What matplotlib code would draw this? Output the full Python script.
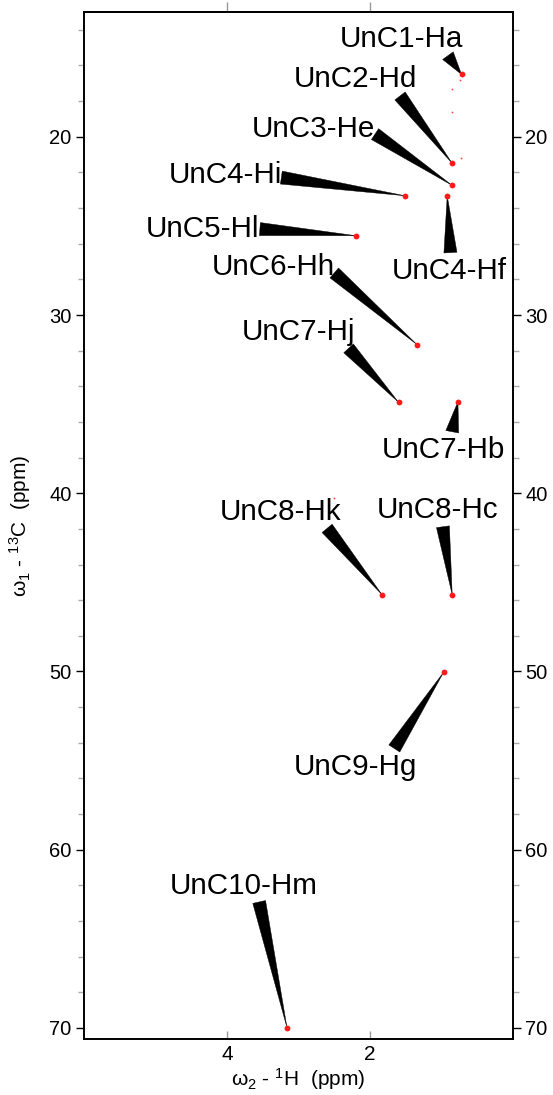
import numpy as np
import matplotlib.pyplot as plt
from matplotlib.ticker import MultipleLocator

plt.rcParams['font.family'] = ['Liberation Sans', 'DejaVu Sans']
plt.rcParams['mathtext.default'] = 'regular'

# assigned cross peaks (1H ppm, 13C ppm)
labels = ['UnC1-Ha', 'UnC2-Hd', 'UnC3-He', 'UnC4-Hi', 'UnC5-Hl', 'UnC6-Hh', 'UnC4-Hf',
          'UnC7-Hj', 'UnC7-Hb', 'UnC8-Hk', 'UnC8-Hc', 'UnC9-Hg', 'UnC10-Hm']
h_ppm = [0.72, 0.85, 0.85, 1.51, 2.20, 1.34, 0.92, 1.60, 0.77, 1.83, 0.85, 0.97, 3.16]
c_ppm = [16.50, 21.49, 22.73, 23.31, 25.55, 31.67, 23.31, 34.90, 34.87, 45.70, 45.70, 50.04, 70.00]

# weak stray signals
weak_h = [0.86, 0.86, 0.73, 0.74, 2.51]
weak_c = [17.34, 18.61, 21.19, 16.82, 40.29]

# label text position (left, baseline) and wedge start
text_h = [2.43, 3.06, 3.65, 4.82, 5.13, 4.22, 1.70, 3.80, 1.83, 4.10, 1.90, 3.06, 4.80]
text_c = [14.98, 17.23, 20.03, 22.61, 25.61, 27.74, 28.00, 31.41, 38.04, 41.51, 41.41, 55.82, 62.46]
base_h = [0.91, 1.58, 1.93, 3.24, 3.54, 2.50, 0.875, 2.30, 0.85, 2.60, 0.98, 1.66, 3.55]
base_c = [15.45, 17.71, 19.85, 22.29, 25.18, 27.64, 26.50, 31.87, 36.55, 41.97, 41.88, 54.32, 62.93]

fig = plt.figure(figsize=(5.53, 10.95), dpi=100)
ax = fig.add_axes([84/553, 1 - 1039/1095, 429/553, 1027/1095])

for i in range(len(labels)):
    ax.annotate('', xy=(h_ppm[i], c_ppm[i]), xytext=(base_h[i], base_c[i]),
                arrowprops=dict(arrowstyle='wedge,tail_width=0.47,shrink_factor=0.5',
                                fc='black', ec='black', lw=0.3, shrinkA=0, shrinkB=0,
                                mutation_scale=20), zorder=2)
    ax.text(text_h[i], text_c[i], labels[i], fontsize=21.3, ha='left', va='baseline', zorder=3)

ax.plot(h_ppm, c_ppm, 'o', color='#ff1a1a', markersize=4.2, markeredgewidth=0, zorder=4)
ax.plot(weak_h, weak_c, 'o', color='#ff4040', markersize=1.3, markeredgewidth=0, zorder=4)

ax.set_xlim(6, 0)
ax.set_ylim(70.62, 13.0)

ax.set_xticks([4, 2])
ax.yaxis.set_major_locator(MultipleLocator(10))
ax.yaxis.set_minor_locator(MultipleLocator(2))

for s in ax.spines.values():
    s.set_linewidth(1.4)

ax.tick_params(axis='x', which='major', direction='in', length=6, width=1, color='#999999',
               labelsize=15, pad=4, top=False)
ax.tick_params(axis='y', which='major', direction='out', length=6, width=1, color='black',
               labelsize=14.5, pad=3, left=True, right=True, labelleft=True, labelright=True)
ax.tick_params(axis='y', which='minor', direction='out', length=4, width=1, color='#aaaaaa',
               left=True, right=True)

top = ax.secondary_xaxis('top')
top.set_xticks([4, 2])
top.tick_params(direction='out', length=7, width=1, color='#999999', labeltop=False)
top.spines['top'].set_linewidth(1.4)

ax.set_xlabel('ω$_2$ - $^1$H  (ppm)', fontsize=15, labelpad=2)
ax.set_ylabel('ω$_1$ - $^{13}$C  (ppm)', fontsize=15)
ax.yaxis.set_label_coords(-0.118, 0.5)

fig.savefig('out.png', dpi=100)
